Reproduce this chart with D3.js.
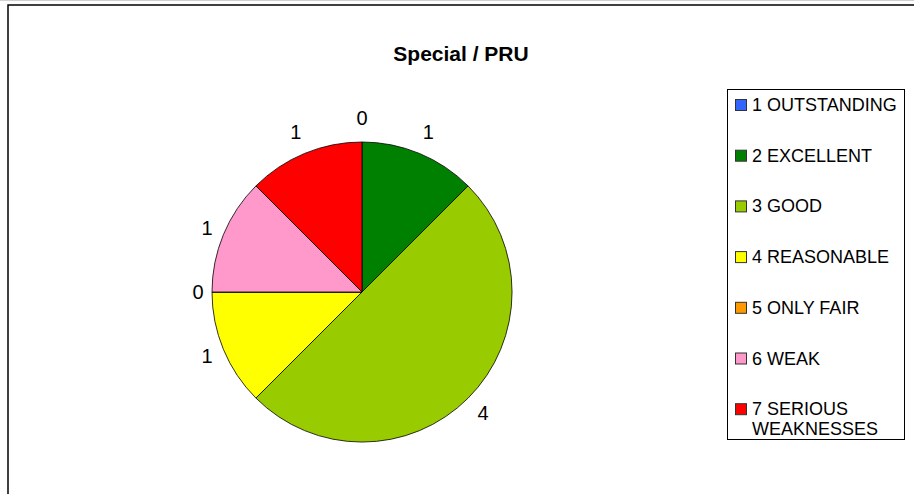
<!DOCTYPE html>
<html>
<head>
<meta charset="utf-8">
<script src="https://cdn.jsdelivr.net/npm/d3@7"></script>
<style>
  body { margin: 0; background: #fff; }
  text { font-family: Arial, "Liberation Sans", sans-serif; }
</style>
</head>
<body>
<div id="chart"></div>
<script>
// chart data
var categories = ["1 OUTSTANDING", "2 EXCELLENT", "3 GOOD", "4 REASONABLE", "5 ONLY FAIR", "6 WEAK", "7 SERIOUS WEAKNESSES"];
var values = [0, 1, 4, 1, 0, 1, 1];
var colours = ["#3366FF", "#008000", "#99CC00", "#FFFF00", "#FF9900", "#FF99CC", "#FF0000"];

var width = 914, height = 494;

var svg = d3.select("#chart").append("svg")
  .attr("width", width)
  .attr("height", height);

// faint line at the very top + chart frame (runs off right and bottom)
svg.append("line")
  .attr("x1", 0).attr("x2", width).attr("y1", 0.5).attr("y2", 0.5)
  .style("stroke", "#d0d0d0");
svg.append("rect")
  .attr("x", 8).attr("y", 5)
  .attr("width", width + 20).attr("height", height + 20)
  .style("fill", "none").style("stroke", "#000").style("stroke-width", 1.5);

svg.append("text")
  .attr("x", 461).attr("y", 61)
  .attr("text-anchor", "middle")
  .style("font-size", "21px").style("font-weight", "bold")
  .text("Special / PRU");

// the pie
var cx = 362, cy = 292, radius = 150;

var pie = d3.pie().sort(null).value(function(d) { return d; });
var arcs = pie(values);
var arc = d3.arc().innerRadius(0).outerRadius(radius);

var g = svg.append("g").attr("transform", "translate(" + cx + "," + cy + ")");

g.selectAll("path")
  .data(arcs)
  .enter()
  .append("path")
  .attr("d", arc)
  .style("fill", function(d, i) { return colours[i]; })
  .style("stroke", "#000")
  .style("stroke-width", 0.8);

// value labels outside the pie, a little further out near the top/bottom
function labelPos(d) {
  var a = (d.startAngle + d.endAngle) / 2;
  var r = 164 + 10 * Math.abs(Math.cos(a));
  return [r * Math.sin(a), -r * Math.cos(a)];
}

g.selectAll("text.lbl")
  .data(arcs)
  .enter()
  .append("text")
  .attr("class", "lbl")
  .attr("x", function(d) { return labelPos(d)[0]; })
  .attr("y", function(d) { return labelPos(d)[1]; })
  .attr("text-anchor", "middle")
  .attr("dominant-baseline", "central")
  .style("font-size", "20px")
  .style("fill", "#000")
  .text(function(d) { return d.data; });

// legend
var legend = svg.append("g");
legend.append("rect")
  .attr("x", 727.5).attr("y", 89.5)
  .attr("width", 177).attr("height", 350)
  .style("fill", "#fff").style("stroke", "#000").style("stroke-width", 1);

var item = legend.selectAll("g.item")
  .data(categories)
  .enter()
  .append("g")
  .attr("class", "item")
  .attr("transform", function(d, i) { return "translate(735," + (105 + i * 50.7) + ")"; });

item.append("rect")
  .attr("x", 0.5).attr("y", -5.5)
  .attr("width", 11).attr("height", 11)
  .style("fill", function(d, i) { return colours[i]; })
  .style("stroke", "#333").style("stroke-width", 1);

item.append("text")
  .attr("x", 17).attr("y", 0)
  .attr("dominant-baseline", "central")
  .style("font-size", "18px")
  .each(function(d) {
    var t = d3.select(this);
    var parts = d === "7 SERIOUS WEAKNESSES" ? ["7 SERIOUS", "WEAKNESSES"] : [d];
    parts.forEach(function(p, k) {
      t.append("tspan").attr("x", 17).attr("dy", k === 0 ? 0 : 20).text(p);
    });
  });
</script>
</body>
</html>
